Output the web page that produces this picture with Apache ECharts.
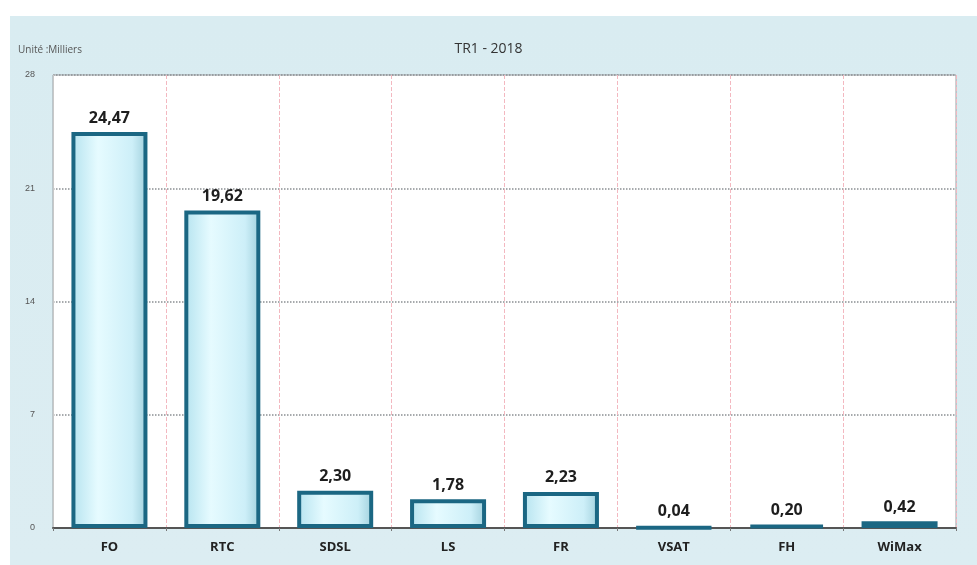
<!DOCTYPE html>
<html><head><meta charset="utf-8">
<script src="https://cdn.jsdelivr.net/npm/echarts@6/dist/echarts.min.js"></script>
<style>html,body{margin:0;padding:0;background:#fff}#c{width:977px;height:565px}</style>
</head><body><div id="c"></div>
<script>
const categories = ['FO','RTC','SDSL','LS','FR','VSAT','FH','WiMax'];
const values = [24.47, 19.62, 2.30, 1.78, 2.23, 0.04, 0.20, 0.42];
const yTicks = [0, 7, 14, 21, 28];
const titleText = 'TR1 - 2018';
const unitText = 'Unité :Milliers';

const chart = echarts.init(document.getElementById('c'));
chart.setOption({
  backgroundColor: '#ffffff',
  animation: false,
  graphic: [{
    type: 'rect', left: 10, top: 16, z: -10,
    shape: {width: 967, height: 549},
    style: {fill: new echarts.graphic.LinearGradient(0,0,0,1,[{offset:0,color:'#d9ecf1'},{offset:1,color:'#dcedf2'}])}
  }, {
    type: 'text', left: 18, top: 45,
    style: {text: unitText, fontSize: 10, fill: '#555', fontFamily: 'Open Sans'}
  }],
  title: {text: titleText, left: 'center', top: 37,
    textStyle: {fontSize: 14, fontWeight: 'normal', color: '#333', fontFamily: 'Open Sans'}},
  grid: {left: 53, right: 21, top: 75, bottom: 37, show: true, backgroundColor: '#ffffff',
    borderColor: '#9aa0a4', borderWidth: 1},
  xAxis: {
    type: 'category', data: categories,
    axisLine: {lineStyle: {color: '#555', width: 2}},
    axisTick: {show: true, length: 3, lineStyle: {color: '#777'}},
    axisLabel: {fontWeight: 'bold', fontSize: 13, color: '#222', margin: 13, fontFamily: 'Open Sans'},
    splitLine: {show: true, lineStyle: {color: '#f3b8c0', type: 'dashed', width: 1}}
  },
  yAxis: {
    type: 'value', min: 0, max: 28, interval: 7,
    axisLine: {show: true, lineStyle: {color: '#c8c8c8'}},
    axisTick: {show: false},
    axisLabel: {fontSize: 9, color: '#555', margin: 18,
      formatter: v => yTicks.includes(v) ? String(v) : ''},
    splitLine: {show: true, lineStyle: {color: '#8a8f93', type: 'dotted', width: 1.5}}
  },
  series: [{
    type: 'bar', data: values, barWidth: 76,
    itemStyle: {
      color: new echarts.graphic.LinearGradient(0,0,1,0,[
        {offset:0,color:'#b5e3ef'},{offset:0.35,color:'#e6fbff'},{offset:0.8,color:'#cdeff8'},{offset:1,color:'#9fcfdc'}]),
      borderColor: '#1b6783', borderWidth: 4
    },
    label: {show: true, position: 'top', distance: 6, fontWeight: 'bold', fontSize: 16, color: '#1e1e1e',
      fontFamily: 'Open Sans',
      formatter: p => p.value.toFixed(2).replace('.', ',')}
  }]
});
</script></body></html>
